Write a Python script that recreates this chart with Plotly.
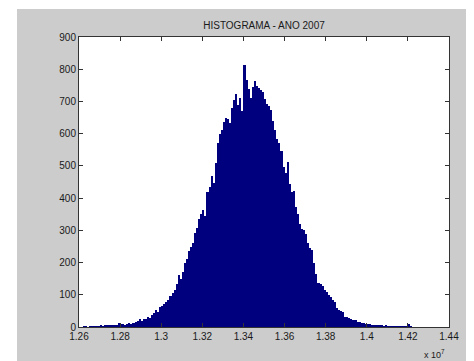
import plotly.graph_objects as go

# Histogram counts (bins of 0.001 x 10^7 starting at 1.262 x 10^7)
bin_start = 1.262
bin_width = 0.001
counts = [
    2, 1, 0, 2, 1, 2, 3, 2, 4, 3,
    5, 4, 6, 5, 4, 7, 6, 11, 8, 10,
    6, 9, 12, 8, 11, 15, 18, 24, 20, 26,
    24, 30, 28, 38, 45, 52, 48, 62, 66, 72,
    79, 85, 96, 104, 115, 132, 160, 150, 170, 200,
    212, 235, 248, 262, 292, 308, 335, 352, 362, 345,
    420, 435, 468, 448, 508, 570, 600, 612, 635, 648,
    645, 632, 680, 705, 722, 690, 712, 670, 814, 768,
    740, 712, 745, 762, 748, 742, 735, 728, 708, 692,
    686, 672, 640, 612, 582, 570, 545, 498, 478, 513,
    445, 420, 422, 372, 352, 320, 305, 300, 288, 262,
    245, 238, 198, 166, 138, 132, 128, 115, 108, 100,
    94, 85, 78, 60, 52, 50, 46, 32, 30, 28,
    26, 22, 22, 17, 14, 12, 11, 10, 9, 8,
    7, 6, 6, 4, 5, 4, 3, 4, 3, 2,
    3, 2, 2, 1, 2, 1, 2, 1, 10, 2,
]
centers = [bin_start + (i + 0.5) * bin_width for i in range(len(counts))]

x_ticks = [1.26, 1.28, 1.30, 1.32, 1.34, 1.36, 1.38, 1.40, 1.42, 1.44]
x_tick_labels = ["1.26", "1.28", "1.3", "1.32", "1.34", "1.36", "1.38", "1.4", "1.42", "1.44"]
y_ticks = [0, 100, 200, 300, 400, 500, 600, 700, 800, 900]

title_text = "HISTOGRAMA - ANO 2007"

font_family = "Liberation Sans, Arial, sans-serif"

fig = go.Figure()
fig.add_trace(go.Bar(
    x=centers, y=counts, width=bin_width,
    marker=dict(color="#00007f", line=dict(width=0)),
    showlegend=False,
))

# page body has an 8px margin, so the figure is offset by 8px
OFF = 8
W, H = 474 - OFF, 361 - OFF
ml, mr, mt, mb = 79 - OFF, 25, 37 - OFF, 34
pw, ph = W - ml - mr, H - mt - mb

def px_x(p):
    return (p - OFF - ml) / pw

def px_y(p):
    return 1 - (p - OFF - mt) / ph

fig.update_layout(
    width=W, height=H,
    margin=dict(l=ml, r=mr, t=mt, b=mb, pad=0),
    paper_bgcolor="#cccccc",
    plot_bgcolor="white",
    bargap=0,
    font=dict(family=font_family, size=10, color="#1a1a1a"),
    title=dict(text=title_text, x=0.5, xref="paper",
               xanchor="center", y=1 - (25 - OFF) / H, yanchor="middle",
               font=dict(size=10, color="#1a1a1a", family=font_family)),
    xaxis=dict(range=[1.26, 1.44], tickvals=x_ticks, ticktext=x_tick_labels,
               ticks="inside", ticklen=4, tickcolor="#333333",
               showline=True, linecolor="#333333", linewidth=1, mirror="ticks",
               showgrid=False, zeroline=False, tickfont=dict(size=10)),
    yaxis=dict(range=[0, 900], tickvals=y_ticks,
               ticks="inside", ticklen=4, tickcolor="#333333",
               showline=True, linecolor="#333333", linewidth=1, mirror="ticks",
               showgrid=False, zeroline=False, tickfont=dict(size=10)),
    shapes=[
        dict(type="rect", xref="paper", yref="paper",
             x0=px_x(0), x1=px_x(480), y0=px_y(9), y1=px_y(0),
             fillcolor="white", line=dict(width=0), layer="below"),
        dict(type="rect", xref="paper", yref="paper",
             x0=px_x(0), x1=px_x(17), y0=px_y(370), y1=px_y(0),
             fillcolor="white", line=dict(width=0), layer="below"),
    ],
    annotations=[
        dict(text="x 10<sup>7</sup>", xref="paper", yref="paper",
             x=px_x(447), y=px_y(354), xanchor="right", yanchor="middle",
             showarrow=False, font=dict(size=9, color="#1a1a1a")),
    ],
)

fig.write_html("out.html")
